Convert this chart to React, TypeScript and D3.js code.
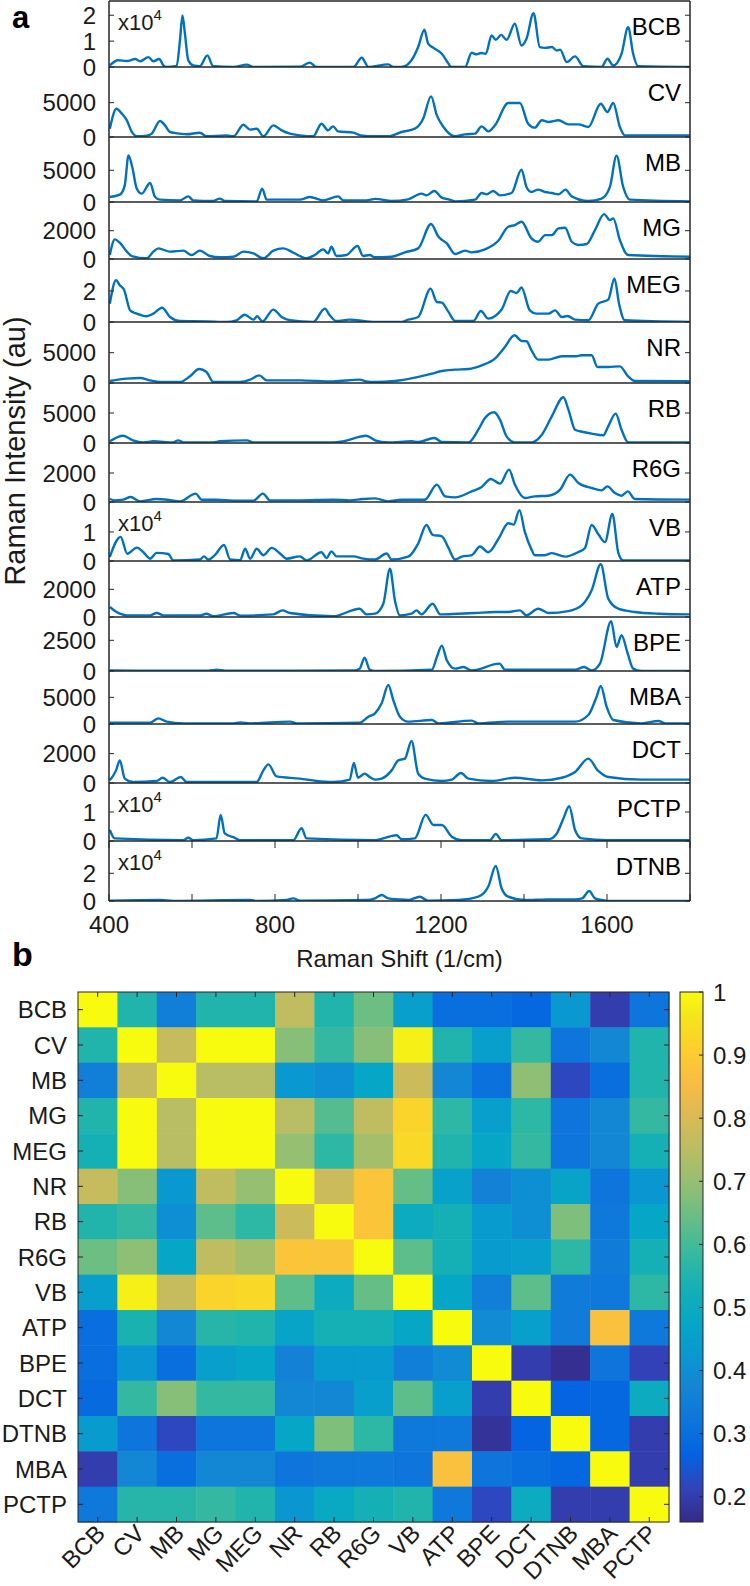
import React from 'react';
import * as d3 from 'd3';

// ---------------- DATA ----------------
const spectrumNames = ['BCB', 'CV', 'MB', 'MG', 'MEG', 'NR', 'RB', 'R6G', 'VB', 'ATP', 'BPE', 'MBA', 'DCT', 'PCTP', 'DTNB'];

// y-axis upper limits per panel (in the units of the tick labels)
const panelYMax = [2.55, 10200, 10250, 4030, 4.06, 10060, 10000, 4070, 2.03, 4050, 4400, 9940, 4020, 2.0, 4.33];
const panelTicks = [[0, 1, 2], [0, 5000], [0, 5000], [0, 2000], [0, 2], [0, 5000], [0, 5000], [0, 2000], [0, 1], [0, 2000], [0, 2500], [0, 5000], [0, 2000], [0, 1], [0, 2]];
const exponentPanels = ['BCB', 'VB', 'PCTP', 'DTNB'];

const xTicks = [400, 600, 800, 1000, 1200, 1400, 1600, 1800];
const xTickLabels = [400, 800, 1200, 1600];

const bcbSpectrum: [number, number][] = [
  [402, 0.06], [422, 0.26], [443, 0.23], [463, 0.31], [475, 0.22], [495, 0.38], [507, 0.22], [521, 0.31], [531, 0.06], [539, 0], [563, 0.04], [571, 1.03], [577, 1.99], [583, 1.28], [591, 0.26], [603, 0.06], [619, 0.03], [637, 0.45], [651, 0.03], [700, 0], [732, 0.09], [748, 0], [860, 0.01], [884, 0.17], [900, 0], [989, 0], [1009, 0.36], [1025, 0], [1073, 0.1], [1085, 0], [1105, 0], [1129, 0.26], [1145, 0.77], [1160, 1.44], [1169, 0.9], [1182, 0.74], [1202, 0.51], [1218, 0.13], [1224, 0], [1258, 0], [1274, 0.55], [1286, 0.49], [1296, 0.54], [1308, 0.51], [1322, 1.22], [1332, 1.05], [1345, 1.24], [1358, 1.05], [1378, 1.67], [1394, 0.83], [1406, 1.09], [1423, 2.08], [1438, 0.77], [1451, 0.74], [1467, 0.77], [1479, 0.64], [1487, 0.67], [1503, 0.19], [1523, 0.41], [1543, 0.03], [1587, 0], [1601, 0.32], [1615, 0.06], [1635, 0.51], [1651, 1.54], [1663, 0.51], [1675, 0.03], [1805, 0],
];
const cvSpectrum: [number, number][] = [
  [402, 1210], [418, 4120], [431, 3400], [443, 2430], [455, 730], [467, 100], [491, 190], [503, 490], [523, 2330], [535, 1700], [547, 730], [571, 490], [587, 390], [619, 630], [635, 100], [683, 240], [700, 100], [724, 1790], [740, 1070], [756, 1210], [772, 100], [796, 1700], [816, 970], [836, 490], [860, 240], [892, 100], [912, 1940], [928, 970], [940, 1550], [952, 820], [989, 630], [1006, 240], [1042, 100], [1073, 100], [1105, 730], [1137, 1210], [1157, 2670], [1176, 5920], [1190, 3150], [1206, 1450], [1234, 100], [1258, 390], [1282, 490], [1298, 1550], [1314, 820], [1330, 1700], [1362, 4950], [1390, 4950], [1410, 1940], [1426, 1360], [1443, 2430], [1459, 2180], [1483, 2430], [1507, 1840], [1531, 1840], [1555, 1450], [1585, 4850], [1601, 3640], [1615, 4950], [1631, 1450], [1643, 240], [1805, 240],
];
const mbSpectrum: [number, number][] = [
  [402, 790], [426, 1160], [438, 2630], [447, 7360], [456, 5520], [467, 2100], [479, 1320], [499, 3000], [511, 790], [523, 370], [571, 260], [591, 890], [603, 260], [651, 160], [667, 530], [679, 160], [756, 100], [769, 2100], [780, 370], [860, 370], [884, 790], [916, 260], [952, 890], [964, 260], [1020, 260], [1042, 500], [1081, 160], [1121, 420], [1153, 1320], [1165, 1050], [1184, 1740], [1202, 680], [1218, 420], [1234, 100], [1282, 370], [1298, 1420], [1310, 1210], [1326, 1740], [1342, 1050], [1370, 1420], [1394, 5100], [1406, 2370], [1418, 1580], [1434, 1950], [1451, 1580], [1467, 1420], [1483, 1210], [1500, 1950], [1515, 890], [1555, 160], [1587, 530], [1607, 2370], [1623, 7310], [1639, 2370], [1655, 370], [1805, 100],
];
const mgSpectrum: [number, number][] = [
  [402, 280], [414, 1390], [426, 1150], [443, 520], [455, 210], [491, 50], [507, 520], [519, 750], [547, 520], [579, 590], [599, 280], [619, 590], [643, 210], [667, 120], [700, 160], [724, 520], [748, 400], [772, 50], [796, 590], [820, 750], [844, 450], [876, 50], [896, 280], [916, 680], [928, 400], [936, 870], [948, 210], [972, 280], [999, 920], [1012, 210], [1028, 280], [1041, 120], [1081, 160], [1113, 470], [1145, 750], [1176, 2470], [1194, 1570], [1214, 1100], [1234, 350], [1258, 590], [1274, 470], [1306, 680], [1338, 1290], [1362, 2280], [1378, 2400], [1394, 2630], [1418, 1460], [1434, 1220], [1451, 1690], [1467, 1690], [1483, 2160], [1499, 2210], [1515, 1220], [1531, 990], [1551, 1060], [1571, 2040], [1593, 3170], [1607, 2750], [1615, 2870], [1631, 1340], [1651, 280], [1805, 160],
];
const megSpectrum: [number, number][] = [
  [402, 1.18], [417, 2.69], [426, 2.37], [436, 2.09], [451, 0.75], [467, 0.54], [491, 0.37], [507, 0.54], [528, 0.92], [547, 0.32], [571, 0.06], [635, 0.04], [683, 0], [707, 0.11], [727, 0.47], [748, 0.15], [757, 0.37], [770, 0.04], [796, 0.8], [816, 0.32], [836, 0.11], [892, 0], [920, 0.86], [932, 0.43], [948, 0.06], [980, 0.15], [997, 0.11], [1041, 0], [1105, 0], [1121, 0.15], [1145, 0.32], [1175, 2.15], [1190, 1.29], [1202, 1.25], [1218, 0.65], [1234, 0.06], [1278, 0.06], [1296, 0.71], [1314, 0.22], [1346, 0.8], [1368, 2.0], [1382, 1.87], [1394, 2.22], [1414, 0.75], [1430, 0.54], [1459, 0.54], [1475, 0.75], [1491, 0.32], [1505, 0.39], [1523, 0.15], [1555, 0.11], [1579, 1.18], [1603, 1.44], [1618, 2.8], [1629, 1.18], [1643, 0.11], [1805, 0],
];
const nrSpectrum: [number, number][] = [
  [402, 330], [443, 715], [475, 825], [499, 440], [523, 165], [571, 165], [595, 1100], [617, 2310], [635, 1815], [651, 165], [716, 165], [740, 550], [762, 1265], [780, 440], [860, 440], [940, 275], [1004, 550], [1020, 275], [1041, 165], [1089, 330], [1137, 880], [1178, 1540], [1202, 1980], [1234, 2200], [1266, 2310], [1298, 2915], [1330, 4015], [1354, 5940], [1377, 7865], [1394, 6930], [1406, 6875], [1418, 5390], [1434, 3850], [1459, 3850], [1491, 4400], [1523, 4400], [1539, 4565], [1563, 4565], [1577, 2640], [1603, 2640], [1631, 2750], [1651, 1100], [1667, 330], [1805, 275],
];
const rbSpectrum: [number, number][] = [
  [402, 280], [434, 1220], [458, 445], [483, 110], [507, 280], [555, 110], [567, 445], [579, 110], [651, 110], [667, 280], [732, 445], [748, 110], [940, 110], [964, 280], [1020, 1220], [1041, 450], [1073, 110], [1129, 280], [1145, 170], [1184, 830], [1202, 170], [1266, 110], [1290, 2220], [1306, 4170], [1328, 5115], [1342, 3890], [1358, 1110], [1378, 110], [1418, 110], [1443, 1390], [1467, 4450], [1495, 7620], [1507, 5560], [1523, 2220], [1543, 1835], [1563, 1555], [1591, 1280], [1603, 2780], [1621, 4890], [1635, 2220], [1651, 110], [1805, 110],
];
const r6gSpectrum: [number, number][] = [
  [402, 207], [414, 115], [434, 160], [452, 345], [475, 46], [515, 207], [539, 160], [571, 46], [609, 575], [623, 160], [659, 160], [700, 92], [748, 92], [771, 575], [788, 115], [860, 115], [940, 160], [980, 115], [1012, 207], [1041, 250], [1073, 46], [1105, 160], [1161, 160], [1190, 1200], [1210, 390], [1234, 320], [1274, 735], [1298, 1035], [1320, 1590], [1342, 1265], [1364, 2230], [1378, 1200], [1402, 275], [1426, 390], [1459, 435], [1487, 850], [1511, 1890], [1531, 1310], [1563, 965], [1587, 805], [1601, 1080], [1619, 620], [1635, 435], [1650, 735], [1667, 207], [1805, 160],
];
const vbSpectrum: [number, number][] = [
  [402, 0.14], [428, 0.83], [444, 0.25], [467, 0.46], [483, 0.3], [499, 0.08], [515, 0.28], [543, 0.24], [555, 0.02], [619, 0.05], [629, 0.16], [639, 0.05], [655, 0.2], [677, 0.55], [692, 0.05], [716, 0.03], [728, 0.42], [740, 0.08], [756, 0.42], [772, 0.2], [792, 0.45], [812, 0.26], [828, 0.08], [860, 0.16], [876, 0.02], [912, 0.3], [924, 0.1], [936, 0.33], [948, 0.16], [989, 0.16], [1013, 0.08], [1041, 0.05], [1069, 0.26], [1081, 0.05], [1121, 0.15], [1145, 0.6], [1165, 1.24], [1180, 0.9], [1202, 0.85], [1218, 0.45], [1234, 0.05], [1250, 0.15], [1274, 0.2], [1294, 0.5], [1314, 0.3], [1340, 0.8], [1362, 1.3], [1375, 1.25], [1389, 1.75], [1402, 1.0], [1418, 0.4], [1426, 0.2], [1450, 0.2], [1467, 0.27], [1499, 0.15], [1530, 0.3], [1547, 0.45], [1563, 1.24], [1580, 0.9], [1595, 0.65], [1613, 1.62], [1627, 0.3], [1639, 0.02], [1805, 0.02],
];
const atpSpectrum: [number, number][] = [
  [402, 720], [418, 360], [443, 120], [499, 120], [515, 290], [531, 120], [619, 120], [635, 240], [651, 50], [700, 290], [716, 100], [796, 190], [818, 480], [836, 290], [940, 50], [1004, 600], [1020, 190], [1041, 240], [1061, 960], [1077, 3490], [1089, 1200], [1101, 120], [1129, 240], [1141, 480], [1153, 190], [1180, 960], [1198, 190], [1242, 240], [1282, 290], [1330, 360], [1362, 360], [1390, 480], [1406, 120], [1434, 600], [1459, 290], [1507, 430], [1539, 840], [1563, 1930], [1585, 3810], [1603, 1330], [1627, 600], [1667, 360], [1724, 240], [1805, 190],
];
const bpeSpectrum: [number, number][] = [
  [402, 50], [500, 30], [640, 30], [659, 110], [680, 30], [990, 40], [1004, 190], [1016, 1090], [1028, 110], [1041, 0], [1178, 110], [1190, 1140], [1202, 2070], [1214, 870], [1234, 190], [1254, 330], [1274, 50], [1341, 600], [1354, 110], [1426, 110], [1523, 110], [1545, 330], [1563, 50], [1583, 600], [1610, 4050], [1623, 1960], [1635, 2910], [1650, 1410], [1663, 190], [1683, 0], [1805, 0],
];
const mbaSpectrum: [number, number][] = [
  [402, 250], [499, 250], [519, 1060], [539, 440], [579, 125], [700, 125], [716, 310], [740, 125], [836, 440], [852, 125], [1004, 250], [1025, 1375], [1041, 2000], [1057, 3875], [1073, 7310], [1085, 4500], [1101, 1375], [1121, 440], [1178, 750], [1194, 125], [1274, 625], [1290, 125], [1362, 440], [1479, 440], [1523, 440], [1555, 1690], [1575, 5125], [1585, 7125], [1599, 3250], [1615, 750], [1683, 125], [1724, 560], [1740, 125], [1805, 125],
];
const dctSpectrum: [number, number][] = [
  [402, 180], [417, 860], [426, 1540], [438, 300], [458, 70], [515, 140], [529, 360], [547, 70], [573, 410], [587, 70], [756, 70], [772, 860], [784, 1270], [804, 450], [860, 300], [900, 140], [940, 70], [980, 230], [990, 1360], [1000, 360], [1016, 640], [1028, 410], [1041, 230], [1057, 300], [1081, 860], [1097, 1540], [1113, 1660], [1129, 2860], [1145, 640], [1161, 300], [1202, 140], [1226, 230], [1248, 680], [1266, 300], [1322, 140], [1378, 360], [1443, 180], [1491, 360], [1523, 750], [1555, 1660], [1579, 820], [1603, 410], [1683, 230], [1805, 230],
];
const pctpSpectrum: [number, number][] = [
  [402, 0.38], [414, 0.09], [579, 0.03], [591, 0.11], [603, 0.03], [659, 0.09], [669, 0.9], [679, 0.26], [703, 0.11], [716, 0.03], [844, 0.03], [864, 0.44], [876, 0.09], [1041, 0.03], [1093, 0.2], [1105, 0.06], [1137, 0.09], [1163, 0.9], [1182, 0.55], [1202, 0.55], [1226, 0.15], [1250, 0.03], [1318, 0.03], [1332, 0.24], [1346, 0.03], [1459, 0.06], [1479, 0.26], [1495, 0.78], [1509, 1.2], [1523, 0.38], [1539, 0.09], [1603, 0.03], [1805, 0.03],
];
const dtnbSpectrum: [number, number][] = [
  [402, 0.02], [523, 0.07], [555, 0], [740, 0.07], [756, 0], [828, 0.07], [844, 0.19], [860, 0.02], [1020, 0.07], [1041, 0.19], [1057, 0.43], [1073, 0.19], [1097, 0.12], [1121, 0.07], [1149, 0.31], [1169, 0.02], [1242, 0.07], [1290, 0.31], [1314, 1.04], [1332, 2.53], [1346, 0.92], [1362, 0.31], [1402, 0.07], [1459, 0.12], [1523, 0.12], [1540, 0.19], [1557, 0.72], [1571, 0.19], [1587, 0.07], [1603, 0], [1805, 0],
];
const spectra = [bcbSpectrum, cvSpectrum, mbSpectrum, mgSpectrum, megSpectrum, nrSpectrum, rbSpectrum, r6gSpectrum, vbSpectrum, atpSpectrum, bpeSpectrum, mbaSpectrum, dctSpectrum, pctpSpectrum, dtnbSpectrum];

// Correlation matrix (rows/cols in this order)
const heatLabels = ['BCB', 'CV', 'MB', 'MG', 'MEG', 'NR', 'RB', 'R6G', 'VB', 'ATP', 'BPE', 'DCT', 'DTNB', 'MBA', 'PCTP'];
const corrBCB = [1, 0.55, 0.35, 0.55, 0.55, 0.76, 0.55, 0.65, 0.45, 0.3, 0.3, 0.28, 0.43, 0.2, 0.32];
const corrCV = [0.55, 1, 0.77, 1, 1, 0.68, 0.58, 0.68, 0.98, 0.55, 0.45, 0.58, 0.32, 0.38, 0.55];
const corrMB = [0.35, 0.77, 1, 0.75, 0.75, 0.43, 0.4, 0.48, 0.78, 0.38, 0.31, 0.69, 0.22, 0.3, 0.55];
const corrMG = [0.55, 1, 0.75, 1, 1, 0.75, 0.62, 0.76, 0.92, 0.57, 0.45, 0.57, 0.32, 0.38, 0.58];
const corrMEG = [0.53, 1, 0.75, 1, 1, 0.7, 0.57, 0.72, 0.93, 0.55, 0.48, 0.58, 0.32, 0.38, 0.53];
const corrNR = [0.77, 0.68, 0.43, 0.76, 0.7, 1, 0.78, 0.88, 0.64, 0.46, 0.36, 0.4, 0.47, 0.32, 0.42];
const corrRB = [0.55, 0.58, 0.4, 0.63, 0.57, 0.78, 1, 0.88, 0.5, 0.53, 0.44, 0.4, 0.67, 0.33, 0.48];
const corrR6G = [0.65, 0.69, 0.48, 0.76, 0.72, 0.88, 0.88, 1, 0.63, 0.53, 0.44, 0.45, 0.57, 0.34, 0.53];
const corrVB = [0.45, 0.98, 0.77, 0.92, 0.93, 0.63, 0.5, 0.64, 1, 0.48, 0.35, 0.63, 0.34, 0.33, 0.57];
const corrATP = [0.3, 0.54, 0.38, 0.56, 0.55, 0.47, 0.53, 0.53, 0.48, 1, 0.39, 0.45, 0.34, 0.87, 0.33];
const corrBPE = [0.3, 0.42, 0.3, 0.45, 0.48, 0.36, 0.44, 0.44, 0.35, 0.39, 1, 0.2, 0.17, 0.32, 0.21];
const corrDCT = [0.29, 0.58, 0.68, 0.58, 0.58, 0.38, 0.38, 0.45, 0.63, 0.45, 0.2, 1, 0.27, 0.28, 0.5];
const corrDTNB = [0.44, 0.32, 0.22, 0.32, 0.32, 0.48, 0.67, 0.57, 0.33, 0.33, 0.18, 0.27, 1, 0.28, 0.2];
const corrMBA = [0.2, 0.38, 0.3, 0.38, 0.38, 0.32, 0.33, 0.33, 0.32, 0.87, 0.32, 0.3, 0.28, 1, 0.2];
const corrPCTP = [0.33, 0.56, 0.56, 0.58, 0.55, 0.42, 0.49, 0.53, 0.55, 0.33, 0.22, 0.5, 0.2, 0.2, 1];
const corrRows = [corrBCB, corrCV, corrMB, corrMG, corrMEG, corrNR, corrRB, corrR6G, corrVB, corrATP, corrBPE, corrDCT, corrDTNB, corrMBA, corrPCTP];

const colorDomain = [0.16, 1];
const colorbarTicks = [0.2, 0.3, 0.4, 0.5, 0.6, 0.7, 0.8, 0.9, 1];

// ---------------- STYLE / LAYOUT ----------------
const FONT = '"Liberation Sans", Arial, Helvetica, sans-serif';
const LINE = '#0072BD';
const AX = '#262626';
const PLOT_L = 109, PLOT_R = 690;
const panelEdges = [1, 67, 137, 202, 259, 322, 383, 443, 502, 561, 617, 671, 724, 783, 841, 901];
const HM = { l: 78, r: 669, t: 992, b: 1522 };
const CB = { l: 680, r: 703 };

// parula colormap anchors (MATLAB)
const parulaAnchors = [
  [0.2081, 0.1663, 0.5292], [0.1959, 0.2645, 0.7279], [0.0117, 0.3875, 0.8820], [0.0498, 0.4586, 0.8641],
  [0.0793, 0.5200, 0.8312], [0.0343, 0.5966, 0.8199], [0.0228, 0.6535, 0.7768], [0.0843, 0.6928, 0.7062],
  [0.2178, 0.7250, 0.6193], [0.3953, 0.7459, 0.5244], [0.5709, 0.7485, 0.4494], [0.7184, 0.7411, 0.3905],
  [0.8507, 0.7299, 0.3360], [0.9739, 0.7314, 0.2666], [0.9880, 0.8066, 0.1794], [0.9589, 0.8949, 0.1132],
  [0.9763, 0.9831, 0.0538],
];
const parulaPos = [0, 4, 8, 12, 16, 20, 24, 28, 32, 36, 40, 44, 48, 52, 56, 60, 63].map(i => i / 63);
const parulaColors = parulaAnchors.map(c => d3.rgb(c[0] * 255, c[1] * 255, c[2] * 255).formatHex());
const parulaT = d3.scaleLinear<string>().domain(parulaPos).range(parulaColors).interpolate(d3.interpolateRgb).clamp(true);
const colorOf = (v: number) => parulaT((v - colorDomain[0]) / (colorDomain[1] - colorDomain[0]));

export default function App() {
  const xScale = d3.scaleLinear().domain([400, 1800]).range([PLOT_L, PLOT_R]);

  const panels = spectrumNames.map((name, i) => {
    const top = panelEdges[i];
    const bottom = panelEdges[i + 1];
    const y = d3.scaleLinear().domain([0, panelYMax[i]]).range([bottom, top]);
    const line = d3.line<[number, number]>().x(d => xScale(d[0])).y(d => y(d[1])).curve(d3.curveMonotoneX);
    return { name, top, bottom, y, path: line(spectra[i]) || '', ticks: panelTicks[i] };
  });

  const hx = d3.scaleBand<string>().domain(heatLabels).range([HM.l, HM.r]);
  const hy = d3.scaleBand<string>().domain(heatLabels).range([HM.t, HM.b]);
  const cbY = d3.scaleLinear().domain(colorDomain).range([HM.b, HM.t]);
  const gradStops = d3.range(0, 65).map(i => i / 64);

  const lastTop = panelEdges[panelEdges.length - 2];
  const lastBottom = panelEdges[panelEdges.length - 1];

  return (
    <svg width={750} height={1586} style={{ position: 'absolute', left: 0, top: 0, background: '#fff' }} fontFamily={FONT}>
      <defs>
        {panels.map((p, i) => (
          <clipPath id={`clip${i}`} key={i}>
            <rect x={PLOT_L} y={p.top} width={PLOT_R - PLOT_L} height={p.bottom - p.top} />
          </clipPath>
        ))}
        <linearGradient id="cbgrad" x1="0" y1="1" x2="0" y2="0">
          {gradStops.map((t, i) => (
            <stop key={i} offset={t} stopColor={parulaT(t)} />
          ))}
        </linearGradient>
      </defs>
      <rect x={0} y={0} width={750} height={1586} fill="#fff" />

      {/* panel a */}
      <text x={12} y={28} fontSize={31} fontWeight="bold" fill="#000">a</text>

      {panels.map((p, i) => (
        <g key={p.name}>
          <path d={p.path} fill="none" stroke={LINE} strokeWidth={2.4} strokeLinejoin="round" clipPath={`url(#clip${i})`} />
          {p.ticks.map(t => (
            <g key={t}>
              <line x1={PLOT_L} x2={PLOT_L + 5} y1={p.y(t)} y2={p.y(t)} stroke={AX} strokeWidth={1} />
              <line x1={PLOT_R - 5} x2={PLOT_R} y1={p.y(t)} y2={p.y(t)} stroke={AX} strokeWidth={1} />
              <text x={96} y={p.y(t)} dy="0.36em" textAnchor="end" fontSize={24} fill="#1a1a1a">{t}</text>
            </g>
          ))}
          <text x={681} y={p.top + 25} dy="0.36em" textAnchor="end" fontSize={24} fill="#000">{p.name}</text>
          {exponentPanels.includes(p.name) && (
            <text x={118} y={p.top + 29} fontSize={22} fill="#1a1a1a">
              x10<tspan fontSize={15} dy={-10}>4</tspan>
            </text>
          )}
        </g>
      ))}

      {/* x ticks on last panel */}
      {xTicks.map(t => (
        <g key={t}>
          <line x1={xScale(t)} x2={xScale(t)} y1={lastBottom} y2={lastBottom - 7} stroke={AX} strokeWidth={1} />
          <line x1={xScale(t)} x2={xScale(t)} y1={lastTop} y2={lastTop + 7} stroke={AX} strokeWidth={1} />
        </g>
      ))}
      {xTickLabels.map(t => (
        <text key={t} x={xScale(t)} y={933} textAnchor="middle" fontSize={24} fill="#1a1a1a">{t}</text>
      ))}

      {/* panel frames */}
      {panelEdges.map((e, i) => (
        <line key={i} x1={PLOT_L} x2={PLOT_R} y1={e} y2={e} stroke={AX} strokeWidth={1.5} />
      ))}
      <line x1={PLOT_L} x2={PLOT_L} y1={panelEdges[0]} y2={lastBottom} stroke={AX} strokeWidth={1.5} />
      <line x1={PLOT_R} x2={PLOT_R} y1={panelEdges[0]} y2={lastBottom} stroke={AX} strokeWidth={1.5} />

      <text x={(PLOT_L + PLOT_R) / 2} y={967} textAnchor="middle" fontSize={24} fill="#1a1a1a">Raman Shift (1/cm)</text>
      <text transform={`translate(25, ${(panelEdges[0] + lastBottom) / 2}) rotate(-90)`} textAnchor="middle" fontSize={29} fill="#1a1a1a">Raman Intensity (au)</text>

      {/* panel b */}
      <text x={12} y={966} fontSize={34} fontWeight="bold" fill="#000">b</text>

      {corrRows.map((row, ri) => row.map((v, ci) => (
        <rect key={`${ri}-${ci}`} x={hx(heatLabels[ci])} y={hy(heatLabels[ri])} width={hx.bandwidth() + 0.5} height={hy.bandwidth() + 0.5} fill={colorOf(v)} />
      )))}
      <rect x={HM.l} y={HM.t} width={HM.r - HM.l} height={HM.b - HM.t} fill="none" stroke={AX} strokeWidth={1} />
      {heatLabels.map(l => {
        const cx = (hx(l) || 0) + hx.bandwidth() / 2;
        const cy = (hy(l) || 0) + hy.bandwidth() / 2;
        return (
          <g key={l}>
            <line x1={cx} x2={cx} y1={HM.t} y2={HM.t + 5} stroke={AX} strokeWidth={1} />
            <line x1={cx} x2={cx} y1={HM.b} y2={HM.b - 5} stroke={AX} strokeWidth={1} />
            <line x1={HM.l} x2={HM.l + 5} y1={cy} y2={cy} stroke={AX} strokeWidth={1} />
            <line x1={HM.r} x2={HM.r - 5} y1={cy} y2={cy} stroke={AX} strokeWidth={1} />
            <text x={67} y={cy} dy="0.36em" textAnchor="end" fontSize={24} fill="#1a1a1a">{l}</text>
            <text transform={`translate(${cx + 9}, ${HM.b + 13}) rotate(-45)`} textAnchor="end" fontSize={24} fill="#1a1a1a">{l}</text>
          </g>
        );
      })}

      {/* colorbar */}
      <rect x={CB.l} y={HM.t} width={CB.r - CB.l} height={HM.b - HM.t} fill="url(#cbgrad)" stroke={AX} strokeWidth={1} />
      {colorbarTicks.map(t => (
        <g key={t}>
          <line x1={CB.r} x2={CB.r - 4} y1={cbY(t)} y2={cbY(t)} stroke={AX} strokeWidth={1} />
          <text x={713} y={cbY(t)} dy="0.36em" fontSize={24} fill="#1a1a1a">{t}</text>
        </g>
      ))}
    </svg>
  );
}
